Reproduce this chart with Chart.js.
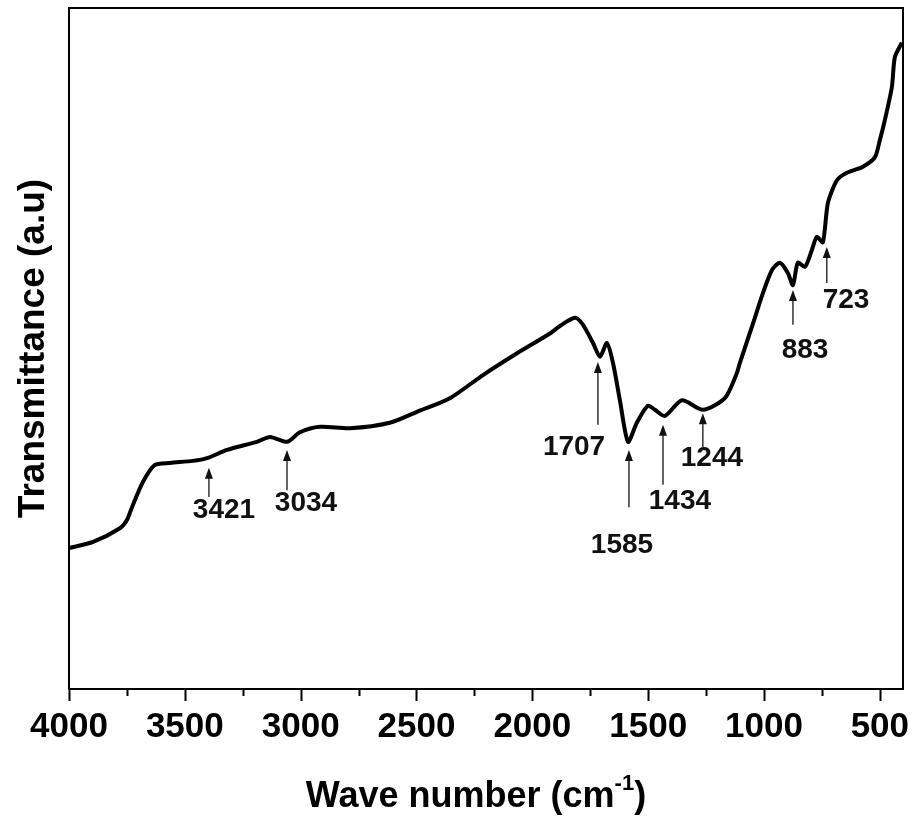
<!DOCTYPE html>
<html>
<head>
<meta charset="utf-8">
<title>FTIR spectrum</title>
<script src="https://cdn.jsdelivr.net/npm/chart.js@4.4.1/dist/chart.umd.min.js"></script>
<style>
    html, body { margin: 0; padding: 0; background: #ffffff; }
    #wrap { width: 916px; height: 816px; }
</style>
</head>
<body>
<div id="wrap"><canvas id="ftirChart" width="916" height="816"></canvas></div>
<script>
// spectrum (wave number, transmittance in arbitrary units)
const waveNumbers = [
    4000, 3896, 3780, 3750, 3728, 3681, 3629, 3564, 3465, 3404,
    3318, 3189, 3132, 3059, 3003, 2917, 2787, 2615, 2498, 2356,
    2213, 2066, 1924, 1881, 1816, 1782, 1738, 1708, 1678, 1652,
    1622, 1587, 1549, 1501, 1471, 1428, 1354, 1264, 1169, 1117,
    1104, 1052, 1005, 966, 931, 897, 875, 854, 823, 793,
    772, 746, 724, 685, 642, 573, 521, 500, 478, 448,
    435, 405
];
const transmittance = [
    20.7, 21.6, 23.6, 24.8, 26.7, 30.4, 32.9, 33.2, 33.5, 33.9,
    35.1, 36.3, 37.0, 36.3, 37.7, 38.5, 38.3, 39.1, 40.7, 42.7,
    46.1, 49.3, 52.2, 53.3, 54.5, 53.5, 50.8, 48.8, 50.8, 47.9,
    42.4, 36.3, 39.1, 41.6, 41.0, 40.1, 42.4, 41.0, 42.7, 46.4,
    47.9, 53.2, 58.1, 61.5, 62.6, 61.1, 59.3, 62.6, 62.0, 64.5,
    66.4, 65.6, 71.4, 74.7, 75.8, 76.7, 78.1, 80.6, 83.6, 88.4,
    92.8, 94.9
];

const xTickValues = [4000, 3500, 3000, 2500, 2000, 1500, 1000, 500];
const xMinorTicks = [3750, 3250, 2750, 2250, 1750, 1250, 750];

// peak annotations: label, arrow x, arrow tip / tail y, label anchor
const peakLabels = ['3421', '3034', '1707', '1585', '1434', '1244', '883', '723'];
const peakArrowX = [3396, 3059, 1717, 1583, 1436, 1264, 875, 729];
const peakArrowTip = [32.5, 35.1, 48.0, 35.1, 38.8, 40.5, 58.6, 64.9];
const peakArrowTail = [28.2, 29.2, 38.8, 26.7, 30.0, 35.5, 53.5, 59.6];
const peakLabelX = [3331, 2977, 1820, 1613, 1363, 1225, 823, 646];
const peakLabelY = [26.3, 27.2, 35.5, 21.1, 27.6, 33.9, 49.8, 57.1];

const FONT = '"Liberation Sans", Arial, sans-serif';

const framePlugin = {
    id: 'frame',
    afterDraw(chart) {
        const { ctx, chartArea, scales } = chart;
        const x = scales.x;
        const y = scales.y;

        ctx.save();
        ctx.strokeStyle = '#000';
        ctx.lineWidth = 2;
        ctx.strokeRect(chartArea.left, chartArea.top,
            chartArea.right - chartArea.left, chartArea.bottom - chartArea.top);

        // tick marks below the axis
        ctx.beginPath();
        xTickValues.forEach(v => {
            const px = Math.round(x.getPixelForValue(v)) + 0.5;
            ctx.moveTo(px, chartArea.bottom);
            ctx.lineTo(px, chartArea.bottom + 12);
        });
        xMinorTicks.forEach(v => {
            const px = Math.round(x.getPixelForValue(v)) + 0.5;
            ctx.moveTo(px, chartArea.bottom);
            ctx.lineTo(px, chartArea.bottom + 7);
        });
        ctx.stroke();

        // arrows and peak labels
        ctx.strokeStyle = '#333';
        ctx.fillStyle = '#111';
        ctx.lineWidth = 1.5;
        peakLabels.forEach((label, i) => {
            const ax = x.getPixelForValue(peakArrowX[i]);
            const tipY = y.getPixelForValue(peakArrowTip[i]);
            const tailY = y.getPixelForValue(peakArrowTail[i]);
            ctx.beginPath();
            ctx.moveTo(ax, tailY);
            ctx.lineTo(ax, tipY + 8);
            ctx.stroke();
            ctx.beginPath();
            ctx.moveTo(ax, tipY);
            ctx.lineTo(ax - 4, tipY + 11);
            ctx.lineTo(ax + 4, tipY + 11);
            ctx.closePath();
            ctx.fill();

            ctx.font = 'bold 28px ' + FONT;
            ctx.textAlign = 'center';
            ctx.textBaseline = 'middle';
            ctx.fillText(label, x.getPixelForValue(peakLabelX[i]), y.getPixelForValue(peakLabelY[i]));
        });

        // x axis title with superscript
        const main = 'Wave number (cm';
        const sup = '-1';
        const close = ')';
        ctx.fillStyle = '#000';
        ctx.textAlign = 'left';
        ctx.textBaseline = 'alphabetic';
        ctx.font = 'bold 36px ' + FONT;
        const wMain = ctx.measureText(main).width;
        const wClose = ctx.measureText(close).width;
        ctx.font = 'bold 22px ' + FONT;
        const wSup = ctx.measureText(sup).width;
        const total = wMain + wSup + wClose;
        let tx = (chartArea.left + chartArea.right) / 2 - total / 2 - 10;
        const ty = 807;
        ctx.font = 'bold 36px ' + FONT;
        ctx.fillText(main, tx, ty);
        tx += wMain;
        ctx.font = 'bold 22px ' + FONT;
        ctx.fillText(sup, tx, ty - 17);
        tx += wSup;
        ctx.font = 'bold 36px ' + FONT;
        ctx.fillText(close, tx, ty);
        ctx.restore();
    }
};

function buildChart() {
    const ctx = document.getElementById('ftirChart').getContext('2d');
    const points = waveNumbers.map((w, i) => ({ x: w, y: transmittance[i] }));

    return new Chart(ctx, {
        type: 'line',
        data: {
            datasets: [{
                data: points,
                borderColor: '#000',
                borderWidth: 4,
                pointRadius: 0,
                tension: 0.25,
                fill: false
            }]
        },
        options: {
            responsive: false,
            animation: false,
            layout: { padding: { top: 8, right: 13, left: 0, bottom: 0 } },
            plugins: {
                legend: { display: false },
                tooltip: { enabled: false }
            },
            scales: {
                x: {
                    type: 'linear',
                    reverse: true,
                    min: 400,
                    max: 4000,
                    afterBuildTicks: scale => {
                        scale.ticks = xTickValues.map(v => ({ value: v }));
                    },
                    afterFit: scale => {
                        scale.height = 127;
                        scale.paddingLeft = 0;
                        scale.paddingRight = 0;
                    },
                    grid: { display: false, drawTicks: false },
                    border: { display: false },
                    ticks: {
                        color: '#000',
                        padding: 17,
                        maxRotation: 0,
                        autoSkip: false,
                        callback: value => String(value),
                        font: { family: FONT, size: 35, weight: 'bold' }
                    }
                },
                y: {
                    min: 0,
                    max: 100,
                    afterFit: scale => { scale.width = 69; },
                    grid: { display: false, drawTicks: false },
                    border: { display: false },
                    ticks: { display: false },
                    title: {
                        display: true,
                        text: 'Transmittance (a.u)',
                        color: '#000',
                        padding: { top: 12, bottom: 0 },
                        font: { family: FONT, size: 37, weight: 'bold' }
                    }
                }
            }
        },
        plugins: [framePlugin]
    });
}

document.addEventListener('DOMContentLoaded', buildChart);
</script>
</body>
</html>
